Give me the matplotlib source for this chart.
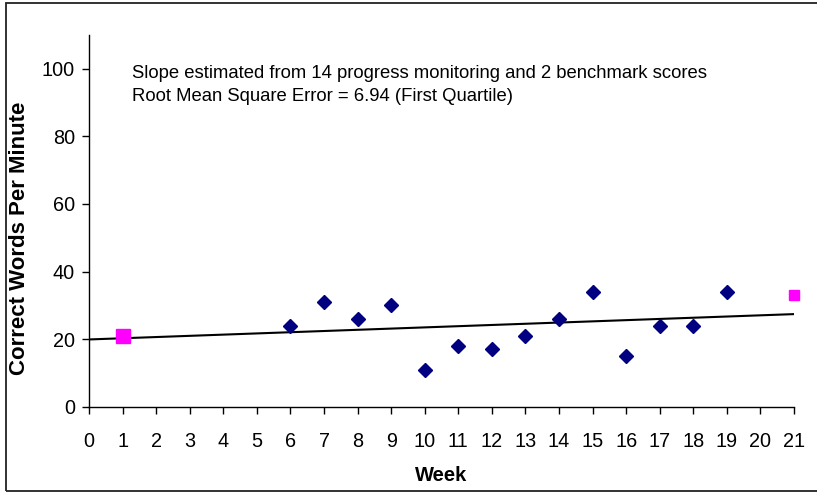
import matplotlib
matplotlib.use("Agg")
from matplotlib import pyplot as plt
from matplotlib.patches import Rectangle

plt.rcParams['font.family'] = ['Liberation Sans', 'DejaVu Sans']

# progress monitoring scores
weeks = [6, 7, 8, 9, 10, 11, 12, 13, 14, 15, 16, 17, 18, 19]
scores = [24, 31, 26, 30, 11, 18, 17, 21, 26, 34, 15, 24, 24, 34]

# benchmark scores
bench_start_week = [1]
bench_start_score = [21]
bench_end_week = [21]
bench_end_score = [33]

# estimated trend line
trend_weeks = [0, 21]
trend_values = [19.9, 27.4]

note_lines = ["Slope estimated from 14 progress monitoring and 2 benchmark scores",
              "Root Mean Square Error = 6.94 (First Quartile)"]

fig = plt.figure(figsize=(8.17, 4.93), dpi=100)
ax = fig.add_axes([89 / 817, 1 - 406.7 / 493, (794 - 89) / 817, (406.7 - 35) / 493])

ax.plot(trend_weeks, trend_values, color='black', linewidth=1.5, zorder=2)
ax.plot(weeks, scores, linestyle='none', marker='D', markersize=7,
        color='#000080', zorder=3, clip_on=False)
ax.plot(bench_start_week, bench_start_score, linestyle='none', marker='s',
        markersize=10, color='#FF00FF', zorder=3, clip_on=False)
ax.plot(bench_end_week, bench_end_score, linestyle='none', marker='s',
        markersize=7, color='#FF00FF', zorder=3, clip_on=False)

ax.set_xlim(0, 21)
ax.set_ylim(0, 110)
ax.set_xticks(range(0, 22))
ax.set_yticks(range(0, 101, 20))
ax.tick_params(direction='out', length=5, width=1, labelsize=14.3)
ax.tick_params(axis='y', pad=5)
ax.tick_params(axis='x', pad=13)

for side in ['top', 'right']:
    ax.spines[side].set_visible(False)
for side in ['left', 'bottom']:
    ax.spines[side].set_linewidth(1)

ax.set_xlabel("Week", fontsize=14.5, fontweight='bold', labelpad=11)
ax.set_ylabel("Correct Words Per Minute", fontsize=16, fontweight='bold')
ax.yaxis.set_label_coords(-0.083, 0.454)

# two note lines, placed by baseline
ax.text(1.28, 97.4, note_lines[0], fontsize=13.3, va='baseline', ha='left')
ax.text(1.28, 90.6, note_lines[1], fontsize=13.3, va='baseline', ha='left')

# frame around the whole chart, runs off the right edge
fig.patches.append(Rectangle((6 / 817, 2 / 493), 1.0, 1 - 4.5 / 493,
                             transform=fig.transFigure, fill=False,
                             edgecolor='#222222', linewidth=1.3))

fig.savefig("out.png", dpi=100)
